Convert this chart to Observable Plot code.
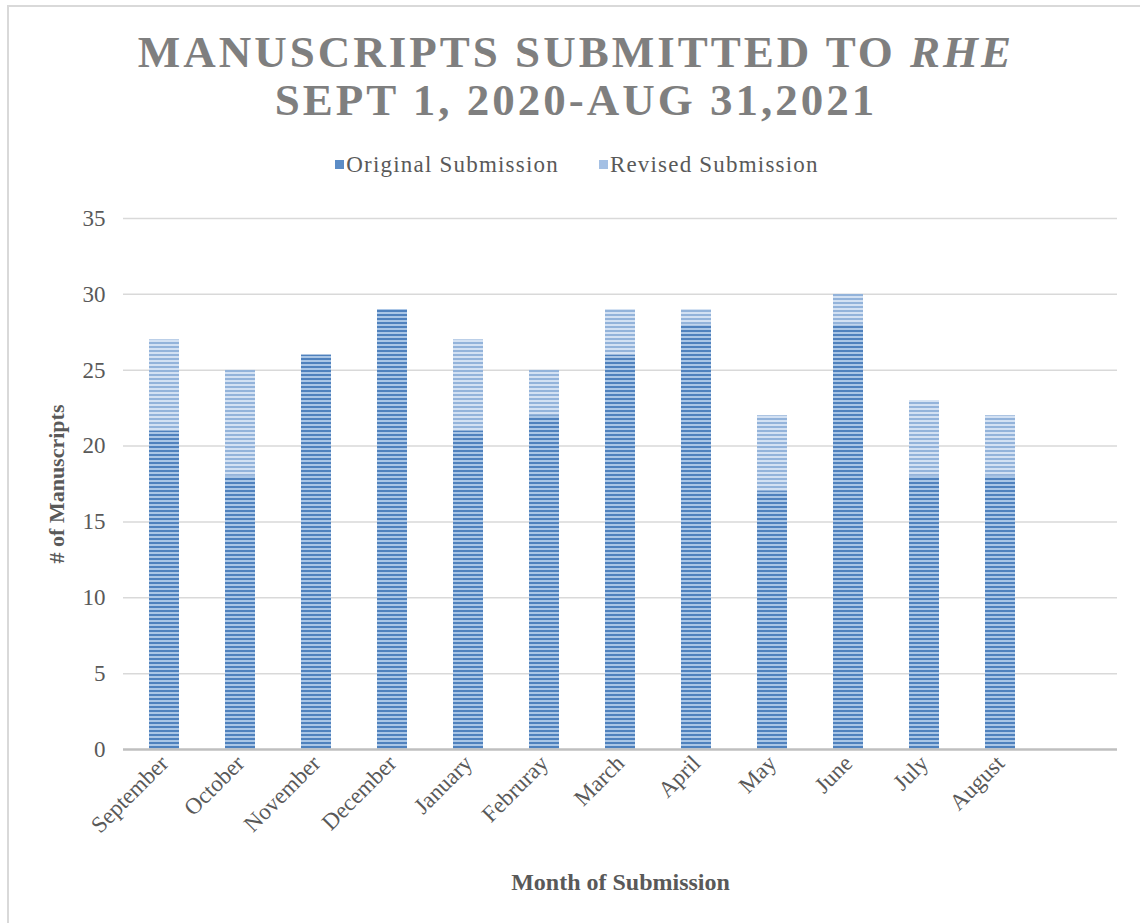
<!DOCTYPE html>
<html><head><meta charset="utf-8">
<script src="https://cdn.jsdelivr.net/npm/d3@7"></script>
<script src="https://cdn.jsdelivr.net/npm/@observablehq/plot@0.6"></script>
<style>
body{margin:0;background:#fff;width:1140px;height:923px;overflow:hidden;position:relative;font-family:"Liberation Serif","Times New Roman",serif;}
#frame{position:absolute;left:7px;top:5px;width:1160px;height:940px;border:2px solid #d9d9d9;box-sizing:border-box}
#title{position:absolute;left:0;top:28px;width:1152px;text-align:center;color:#7f7f7f;font-weight:bold;font-size:45px;letter-spacing:3px;line-height:48px;white-space:nowrap}
#legend{position:absolute;top:152px;left:0;width:1154px;text-align:center;font-size:23px;letter-spacing:1.2px;color:#595959;white-space:nowrap}
#legend span.sw{display:inline-block;width:9px;height:9px;margin-right:2px;vertical-align:middle;position:relative;top:-2px}
#legend span.item{margin:0 20px}
#chart{position:absolute;left:0;top:190px}
g[aria-label="x-axis label"] text, g[aria-label="y-axis label"] text{font-weight:bold}
</style></head><body>
<div id="frame"></div>
<div id="title">MANUSCRIPTS SUBMITTED TO <i>RHE</i><br>SEPT 1, 2020-AUG 31,2021</div>
<div id="legend"></div>
<div id="chart"></div>
<script>
const months = ["September","October","November","December","January","Februray","March","April","May","June","July","August"];
const original = [21,18,26,29,21,22,26,28,17,28,18,18];
const revised = [6,7,0,0,6,3,3,1,5,2,5,4];
const seriesNames = ["Original Submission","Revised Submission"];
const seriesColors = ["#5b8cc6","#a4c0e4"];
const yTicks = [0,5,10,15,20,25,30,35];

const data = months.flatMap((m,i)=>[
  {month:m, series:seriesNames[0], value:original[i]},
  {month:m, series:seriesNames[1], value:revised[i]}
]);

// legend
document.getElementById("legend").innerHTML = seriesNames.map((s,i)=>
  `<span class="item"><span class="sw" style="background:${seriesColors[i]}"></span>${s}</span>`).join("");

const xDomain = [...months, "\u00a0"];

const chart = Plot.plot({
  width: 1140,
  height: 733,
  marginLeft: 123,
  marginRight: 23,
  marginTop: 28,
  marginBottom: 174,
  style: {fontFamily: "'Liberation Serif','Times New Roman',serif", color: "#595959", background: "transparent"},
  x: {domain: xDomain, paddingInner: 0.61, paddingOuter: 0.305},
  y: {domain: [0,35]},
  color: {domain: seriesNames, range: ["url(#pOrig)","url(#pRev)"]},
  marks: [
    Plot.ruleY(yTicks.filter(d=>d>0), {stroke:"#d9d9d9", strokeWidth:1.5}),
    Plot.barY(data, Plot.stackY({x:"month", y:"value", fill:"series"})),
    Plot.ruleY([0], {stroke:"#bfbfbf", strokeWidth:2.5}),
    Plot.axisY({ticks: yTicks, tickSize: 0, tickPadding: 18, fontSize: 23, label: "# of Manuscripts", labelAnchor: "center", labelOffset: 75, labelArrow: false}),
    Plot.axisX({ticks: months, tickSize: 0, tickPadding: 10, tickRotate: -45, fontSize: 23, label: "Month of Submission", labelAnchor: "center", labelOffset: 140})
  ]
});

const svgNS = "http://www.w3.org/2000/svg";
const defs = document.createElementNS(svgNS, "defs");
defs.innerHTML = `
<pattern id="pOrig" patternUnits="userSpaceOnUse" width="8" height="4">
  <rect width="8" height="4" fill="#aac6e6"/><rect width="8" height="2" fill="#4f81bd"/>
</pattern>
<pattern id="pRev" patternUnits="userSpaceOnUse" width="8" height="4">
  <rect width="8" height="4" fill="#d3e1f3"/><rect width="8" height="2" fill="#93b3da"/>
</pattern>`;
chart.prepend(defs);
const yl = chart.querySelector('g[aria-label="y-axis label"]');
if (yl) yl.setAttribute("font-size", "22");
const xl = chart.querySelector('g[aria-label="x-axis label"]');
if (xl) xl.setAttribute("font-size", "24");
document.getElementById("chart").appendChild(chart);
</script>
</body></html>
